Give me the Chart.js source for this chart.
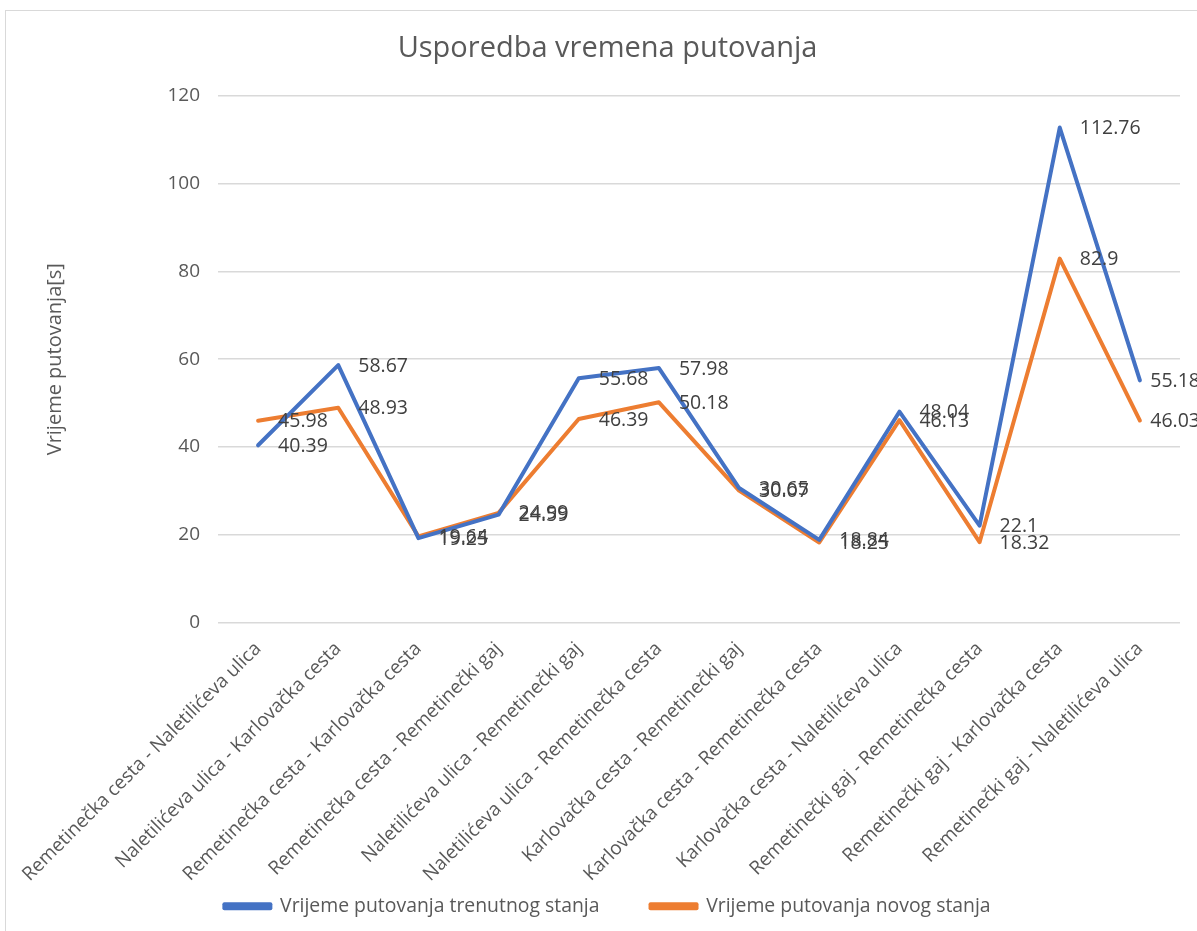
<!DOCTYPE html>
<html>
<head>
<meta charset="utf-8">
<script src="https://cdn.jsdelivr.net/npm/chart.js@4/dist/chart.umd.min.js"></script>
<style>
html,body{margin:0;padding:0;background:#fff;}
#wrap{position:relative;width:1197px;height:931px;}
</style>
</head>
<body>
<div id="wrap"><canvas id="c" width="1197" height="931"></canvas></div>
<script>
const categories = [
  "Remetinečka cesta - Naletilićeva ulica",
  "Naletilićeva ulica - Karlovačka cesta",
  "Remetinečka cesta - Karlovačka cesta",
  "Remetinečka cesta - Remetinečki gaj",
  "Naletilićeva ulica - Remetinečki gaj",
  "Naletilićeva ulica - Remetinečka cesta",
  "Karlovačka cesta - Remetinečki gaj",
  "Karlovačka cesta - Remetinečka cesta",
  "Karlovačka cesta - Naletilićeva ulica",
  "Remetinečki gaj - Remetinečka cesta",
  "Remetinečki gaj - Karlovačka cesta",
  "Remetinečki gaj - Naletilićeva ulica"
];
const currentState = [40.39, 58.67, 19.25, 24.59, 55.68, 57.98, 30.65, 18.84, 48.04, 22.1, 112.76, 55.18];
const newState = [45.98, 48.93, 19.64, 24.99, 46.39, 50.18, 30.07, 18.25, 46.13, 18.32, 82.9, 46.03];
const seriesNames = ["Vrijeme putovanja trenutnog stanja", "Vrijeme putovanja novog stanja"];
const yTicks = [0, 20, 40, 60, 80, 100, 120];

const FONT = "'Open Sans', Lato, sans-serif";
const GREY = "#595959";

const labelPlugin = {
  id: 'pointLabels',
  afterDatasetsDraw(chart) {
    const ctx = chart.ctx;
    ctx.save();
    ctx.font = "19.5px " + FONT;
    ctx.fillStyle = "#404040";
    ctx.textAlign = "left";
    ctx.textBaseline = "middle";
    chart.data.datasets.forEach((ds, i) => {
      const meta = chart.getDatasetMeta(i);
      meta.data.forEach((el, j) => {
        const txt = String(ds.data[j]);
        const w = ctx.measureText(txt).width;
        const x = Math.min(el.x + 20, 1200 - w);
        ctx.fillText(txt, x, el.y + 1);
      });
    });
    ctx.restore();
  }
};
const framePlugin = {
  id: 'frame',
  beforeDraw(chart) {
    const ctx = chart.ctx;
    ctx.save();
    ctx.strokeStyle = "#d9d9d9";
    ctx.lineWidth = 1;
    ctx.strokeRect(5.5, 10.5, 1300, 1000);
    ctx.restore();
    // let the rotated category labels run past the axis box, as in the reference
    if (chart.scales.x) chart.scales.x._computeLabelArea = () => undefined;
  }
};

new Chart(document.getElementById('c'), {
  type: 'line',
  data: {
    labels: categories,
    datasets: [
      { label: seriesNames[0], data: currentState, borderColor: "#4472C4", backgroundColor: "#4472C4",
        borderWidth: 4, pointRadius: 0, tension: 0, borderJoinStyle: 'round', borderCapStyle: 'round' },
      { label: seriesNames[1], data: newState, borderColor: "#ED7D31", backgroundColor: "#ED7D31",
        borderWidth: 4, pointRadius: 0, tension: 0, borderJoinStyle: 'round', borderCapStyle: 'round' }
    ]
  },
  options: {
    responsive: false,
    animation: false,
    devicePixelRatio: 1,
    layout: { padding: { left: 35, right: 17, top: 0, bottom: 5 } },
    plugins: {
      title: { display: true, text: "Usporedba vremena putovanja", color: GREY,
        font: { family: FONT, size: 29, weight: 'normal' }, padding: { top: 31, bottom: 30 } },
      legend: { position: 'bottom',
        labels: { color: GREY, font: { family: FONT, size: 19.4 }, boxWidth: 46, boxHeight: 4, padding: 51 } },
      tooltip: { enabled: false }
    },
    scales: {
      x: {
        offset: true,
        grid: { display: false, drawTicks: false },
        border: { display: false },
        ticks: { color: GREY, font: { family: FONT, size: 19 }, minRotation: 45, maxRotation: 45, autoSkip: false, padding: 15 },
        afterFit(scale) { scale.height = 223; }
      },
      y: {
        min: 0, max: 120,
        afterBuildTicks(scale) { scale.ticks = yTicks.map(v => ({ value: v })); },
        grid: { color: "#d9d9d9", lineWidth: 1.5, drawTicks: false },
        border: { display: false },
        ticks: { color: GREY, font: { family: FONT, size: 19 }, padding: 18 },
        title: { display: true, text: "Vrijeme putovanja[s]", color: GREY,
          font: { family: FONT, size: 20 }, padding: { top: 8, bottom: 0 } },
        afterFit(scale) { scale.width = 183; }
      }
    }
  },
  plugins: [labelPlugin, framePlugin]
});
</script>
</body>
</html>
